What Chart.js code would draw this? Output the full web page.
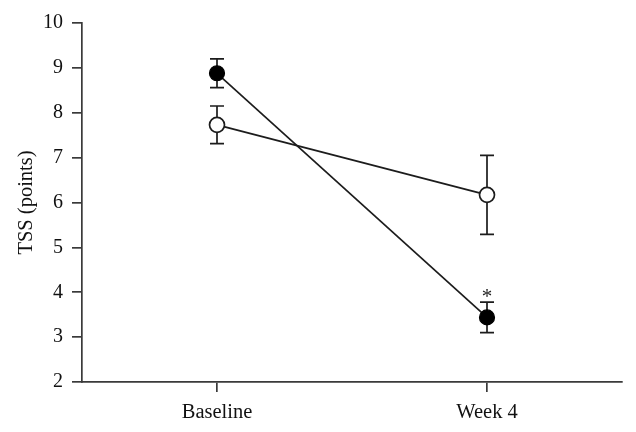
<!DOCTYPE html>
<html>
<head>
<meta charset="utf-8">
<script src="https://cdn.jsdelivr.net/npm/chart.js@4/dist/chart.umd.min.js"></script>
<style>
  html, body { margin: 0; padding: 0; background: #fff; }
  #wrap { width: 636px; height: 432px; }
</style>
</head>
<body>
<div id="wrap"><canvas id="chart-tss"></canvas></div>
<script>
// categories on the x axis
const categories = ['Baseline', 'Week 4'];
// filled circles
const filledMean = [8.88, 3.44];
const filledErr  = [0.32, 0.34];
// open circles
const openMean = [7.73, 6.17];
const openErr  = [0.42, 0.88];
// y tick labels
const yTicks = [2, 3, 4, 5, 6, 7, 8, 9, 10];
// significance marks (index of category -> text) for the filled series
const filledMarks = ['', '*'];

const ink = '#1c1c1c';
const axisInk = '#3a3a3a';
const serif = "'Liberation Serif', 'DejaVu Serif', serif";

const toPoints = arr => arr.map((v, i) => ({ x: i, y: v }));

// error bars + asterisk, drawn under the markers
const errorBars = {
  id: 'errorBars',
  beforeDatasetsDraw(chart) {
    const { ctx, scales: { x, y } } = chart;
    ctx.save();
    ctx.strokeStyle = ink;
    ctx.lineWidth = 1.7;
    chart.data.datasets.forEach(ds => {
      ds.data.forEach((p, i) => {
        const e = ds.errors[i];
        const px = x.getPixelForValue(p.x);
        const top = y.getPixelForValue(p.y + e);
        const bot = y.getPixelForValue(p.y - e);
        ctx.beginPath();
        ctx.moveTo(px, top); ctx.lineTo(px, bot);
        ctx.moveTo(px - 7, top); ctx.lineTo(px + 7, top);
        ctx.moveTo(px - 7, bot); ctx.lineTo(px + 7, bot);
        ctx.stroke();
        if (ds.marks && ds.marks[i]) {
          ctx.fillStyle = ink;
          ctx.font = '21px ' + serif;
          ctx.textAlign = 'center';
          ctx.textBaseline = 'bottom';
          ctx.fillText(ds.marks[i], px, top + 6);
        }
      });
    });
    ctx.restore();
  }
};

new Chart(document.getElementById('chart-tss'), {
  type: 'line',
  data: {
    datasets: [
      {
        label: 'Open',
        data: toPoints(openMean),
        errors: openErr,
        borderColor: ink,
        borderWidth: 1.7,
        pointRadius: 7.5,
        pointBorderWidth: 1.7,
        pointBackgroundColor: '#fff',
        pointBorderColor: ink,
        fill: false,
        tension: 0
      },
      {
        label: 'Filled',
        data: toPoints(filledMean),
        errors: filledErr,
        marks: filledMarks,
        borderColor: ink,
        borderWidth: 1.7,
        pointRadius: 7.5,
        pointBorderWidth: 1.2,
        pointBackgroundColor: '#000',
        pointBorderColor: '#000',
        fill: false,
        tension: 0
      }
    ]
  },
  options: {
    responsive: true,
    maintainAspectRatio: false,
    animation: false,
    layout: { padding: { left: 0, right: 14, top: 23, bottom: 0 } },
    plugins: { legend: { display: false }, tooltip: { enabled: false } },
    scales: {
      x: {
        type: 'linear',
        min: -0.5,
        max: 1.5,
        afterBuildTicks: s => { s.ticks = categories.map((c, i) => ({ value: i })); },
        afterFit: s => { s.height = 50; },
        border: { display: true, color: axisInk, width: 1.7 },
        grid: { display: true, drawOnChartArea: false, drawTicks: true, tickLength: 10, color: axisInk, lineWidth: 1.7 },
        ticks: {
          padding: 8,
          color: '#111',
          font: { family: serif, size: 20.5 },
          callback: v => categories[v] ?? ''
        }
      },
      y: {
        min: 2,
        max: 10,
        afterBuildTicks: s => { s.ticks = yTicks.map(v => ({ value: v })); },
        afterFit: s => { s.width = 82; },
        border: { display: true, color: axisInk, width: 1.7 },
        grid: { display: true, drawOnChartArea: false, drawTicks: true, tickLength: 10, color: axisInk, lineWidth: 1.7 },
        ticks: {
          padding: 9,
          color: '#111',
          font: { family: serif, size: 20 }
        },
        title: {
          display: true,
          text: 'TSS (points)',
          color: '#111',
          font: { family: serif, size: 20.5 },
          padding: { top: 14, bottom: 0 }
        }
      }
    }
  },
  plugins: [errorBars]
});
</script>
</body>
</html>
